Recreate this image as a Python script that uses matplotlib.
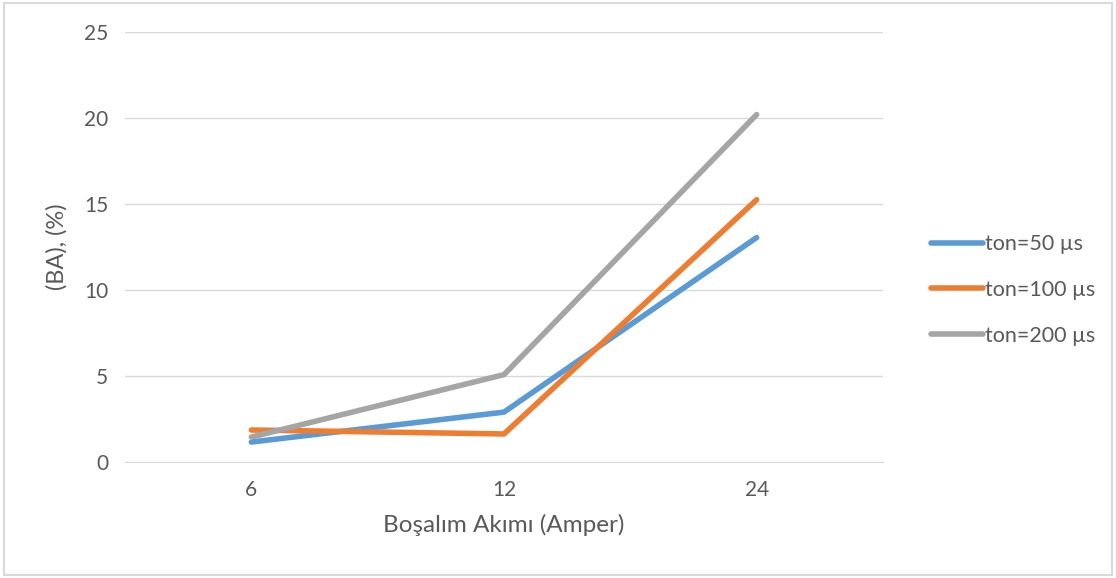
import matplotlib
matplotlib.use('Agg')
import matplotlib.pyplot as plt
from matplotlib.patches import Rectangle

categories = ['6', '12', '24']
ton_50 = [1.16, 2.9, 13.05]
ton_100 = [1.86, 1.63, 15.25]
ton_200 = [1.45, 5.08, 20.2]
labels = ['ton=50 µs', 'ton=100 µs', 'ton=200 µs']
colors = ['#5B9BD5', '#ED7D31', '#A5A5A5']

plt.rcParams['font.family'] = ['Lato', 'DejaVu Sans']
txt = '#595959'

W, H = 1116, 578
fig = plt.figure(figsize=(W / 100, H / 100), dpi=100)
ax = fig.add_axes([125 / W, (H - 462) / H, (883 - 125) / W, (462 - 32) / H])

x = range(len(categories))
for vals, lab, c in zip([ton_50, ton_100, ton_200], labels, colors):
    ax.plot(x, vals, color=c, linewidth=4, label=lab, solid_capstyle='round')

ax.set_xlim(-0.5, 2.5)
ax.set_ylim(0, 25)
ax.set_yticks([0, 5, 10, 15, 20, 25])
ax.set_xticks(list(x))
ax.set_xticklabels(categories)
ax.grid(axis='y', color='#D9D9D9', linewidth=1)
ax.set_axisbelow(True)
for s in ['top', 'right', 'left']:
    ax.spines[s].set_visible(False)
ax.spines['bottom'].set_color('#D9D9D9')
ax.tick_params(length=0, labelsize=15, colors=txt, pad=12)
ax.tick_params(axis='x', pad=13)

ax.set_xlabel('Boşalım Akımı (Amper)', fontsize=17.5, color=txt, labelpad=10)
ax.set_ylabel('(BA), (%)', fontsize=17, color=txt, labelpad=12)

leg = ax.legend(loc='center left', bbox_to_anchor=(912 / W, (H - 290) / H),
                bbox_transform=fig.transFigure, frameon=False, fontsize=15.5,
                handlelength=2.4, handletextpad=0.1, labelspacing=1.2,
                labelcolor=txt)

fig.patches.append(Rectangle((4 / W, 3 / H), (W - 8) / W, (H - 6) / H,
                             transform=fig.transFigure, fill=False,
                             edgecolor='#D9D9D9', linewidth=1.5))

fig.savefig('out.png', dpi=100, facecolor='white')
